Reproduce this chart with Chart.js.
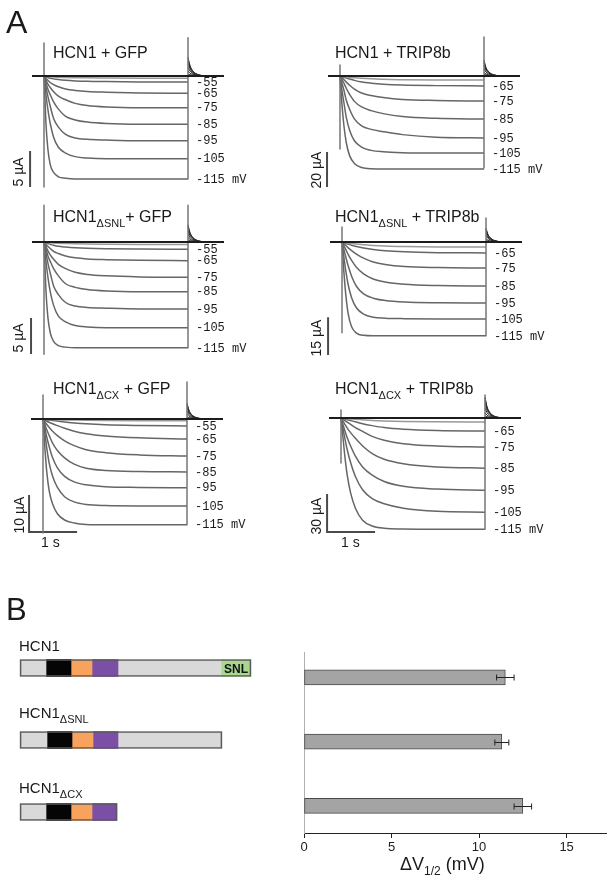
<!DOCTYPE html>
<html><head><meta charset="utf-8">
<script src="https://cdn.jsdelivr.net/npm/chart.js@4.4.1/dist/chart.umd.min.js"></script>
<style>
html,body{margin:0;padding:0;background:#fff}
body{width:613px;height:882px;position:relative;overflow:hidden;font-family:"Liberation Sans",Arial,sans-serif;color:#1a1a1a}
canvas{position:absolute;display:block;z-index:1}
.t{position:absolute;white-space:nowrap;line-height:1;z-index:2}
.sub{font-size:11px;position:relative;top:5px}
.rot{position:absolute;white-space:nowrap;line-height:1;font-size:14px;transform:translate(-50%,-50%) rotate(-90deg);z-index:2}
</style></head><body>
<div class="t" style="left:6px;top:6px;font-size:32px">A</div>
<div class="t" style="left:53px;top:44.8px;font-size:16px">HCN1 + GFP</div>
<div class="t" style="left:335px;top:44.8px;font-size:16px">HCN1 + TRIP8b</div>
<div class="t" style="left:53px;top:208.5px;font-size:16px">HCN1<span class="sub">ΔSNL</span>+ GFP</div>
<div class="t" style="left:335px;top:208.5px;font-size:16px">HCN1<span class="sub">ΔSNL</span> + TRIP8b</div>
<div class="t" style="left:53px;top:380.5px;font-size:16px">HCN1<span class="sub">ΔCX</span> + GFP</div>
<div class="t" style="left:335px;top:380.5px;font-size:16px">HCN1<span class="sub">ΔCX</span> + TRIP8b</div>
<div class="rot" style="left:18px;top:172px">5 µA</div>
<div class="rot" style="left:316px;top:169.5px">20 µA</div>
<div class="rot" style="left:18px;top:338px">5 µA</div>
<div class="rot" style="left:316px;top:337.5px">15 µA</div>
<div class="rot" style="left:19px;top:515px">10 µA</div>
<div class="rot" style="left:316px;top:516px">30 µA</div>
<div class="t" style="left:41px;top:535.2px;font-size:14px">1 s</div>
<div class="t" style="left:341px;top:535.2px;font-size:14px">1 s</div>
<div class="t" style="left:6px;top:593.8px;font-size:31px">B</div>
<div class="t" style="left:19px;top:638.3px;font-size:15px">HCN1</div>
<div class="t" style="left:19px;top:705.3px;font-size:15px">HCN1<span class="sub">ΔSNL</span></div>
<div class="t" style="left:19px;top:780.3px;font-size:15px">HCN1<span class="sub">ΔCX</span></div>
<div class="t" style="left:224px;top:662.9px;font-size:12px;font-weight:bold;color:#111">SNL</div>
<div class="t" style="left:400px;top:854.8px;font-size:18px">ΔV<span class="sub" style="font-size:12px">1/2</span> (mV)</div>
<script>
// ---------- data ----------
const stepTimesS = [0, 0.04, 0.08, 0.13, 0.2, 0.3, 0.45, 0.65, 0.9, 1.3, 2.0, 3.0];
const tailTimesS = [3.0, 3.04, 3.09, 3.16, 3.26, 3.4];
const sweepStartS = -0.25, sweepEndS = 3.75, stepEndS = 3.0;
const gfpStepLabels = ['', '-55', '-65', '-75', '-85', '-95', '-105', '-115 mV'];
const trip8bStepLabels = ['', '-65', '-75', '-85', '-95', '-105', '-115 mV'];

const hcn1GfpSteps = [
 [0,-0.05,-0.08,-0.1,-0.13,-0.17,-0.2,-0.23,-0.26,-0.28,-0.3,-0.3],
 [0,-0.1,-0.2,-0.3,-0.4,-0.5,-0.6,-0.68,-0.74,-0.78,-0.82,-0.83],
 [0,-0.3,-0.6,-0.9,-1.2,-1.5,-1.8,-2.0,-2.15,-2.25,-2.35,-2.4],
 [0,-0.55,-1.1,-1.6,-2.2,-2.8,-3.3,-3.8,-4.1,-4.3,-4.4,-4.4],
 [0,-0.9,-1.8,-2.6,-3.6,-4.6,-5.6,-6.1,-6.4,-6.6,-6.7,-6.7],
 [0,-1.5,-2.8,-4.2,-5.9,-7.1,-8.1,-8.6,-8.8,-8.9,-9.0,-9.0],
 [0,-2.6,-4.6,-6.6,-8.5,-9.9,-10.7,-11.2,-11.4,-11.5,-11.5,-11.5],
 [0,-6.5,-10.1,-12.3,-13.4,-14.0,-14.2,-14.3,-14.3,-14.3,-14.3,-14.3]
];
const hcn1GfpTails = [
 [0.1,0.06,0.03,0.01,0,0],[0.3,0.17,0.09,0.04,0.01,0],[0.7,0.4,0.22,0.1,0.03,0],[1.2,0.7,0.37,0.16,0.05,0],
 [1.7,1.0,0.52,0.23,0.07,0],[2.1,1.2,0.65,0.28,0.08,0],[2.4,1.4,0.74,0.32,0.09,0],[2.6,1.5,0.8,0.35,0.1,0]
];
const hcn1Trip8bSteps = [
 [0,-0.2,-0.35,-0.5,-0.7,-1.0,-1.3,-1.6,-1.9,-2.1,-2.25,-2.3],
 [0,-0.4,-0.8,-1.2,-1.7,-2.5,-3.4,-4.1,-4.7,-5.2,-5.5,-5.7],
 [0,-1,-2,-3.5,-5.3,-7.5,-9.7,-11.2,-12.3,-13.4,-14.0,-14.3],
 [0,-2,-4,-7,-10.5,-14.5,-17.7,-19.8,-21.5,-23.2,-24.2,-24.6],
 [0,-4,-8,-13.7,-19,-24.5,-28.5,-30.5,-31.8,-33.5,-35,-35.4],
 [0,-8,-15,-23.5,-31,-37,-40.6,-42.5,-43.3,-43.8,-44,-44],
 [0,-16,-28,-38,-45.5,-50,-52.3,-53,-53.1,-53.1,-53.1,-53.1]
];
const hcn1Trip8bTails = [
 [1.0,0.55,0.3,0.12,0.04,0],[2.2,1.2,0.65,0.28,0.08,0],[4.2,2.3,1.25,0.53,0.16,0],[6.0,3.3,1.8,0.75,0.22,0],
 [7.5,4.1,2.2,0.95,0.28,0],[8.4,4.6,2.5,1.05,0.31,0],[9.0,4.9,2.7,1.1,0.33,0]
];
const snlGfpSteps = [
 [0,-0.05,-0.08,-0.1,-0.14,-0.18,-0.22,-0.26,-0.29,-0.31,-0.33,-0.33],
 [0,-0.1,-0.2,-0.3,-0.45,-0.6,-0.7,-0.8,-0.88,-0.94,-0.98,-1.0],
 [0,-0.3,-0.6,-0.9,-1.3,-1.6,-1.95,-2.2,-2.35,-2.45,-2.55,-2.6],
 [0,-0.6,-1.2,-1.8,-2.4,-3.1,-3.7,-4.2,-4.5,-4.7,-4.85,-4.9],
 [0,-0.9,-1.9,-2.7,-3.7,-4.7,-5.8,-6.3,-6.6,-6.8,-6.9,-6.9],
 [0,-1.5,-2.9,-4.3,-6.1,-7.3,-8.4,-8.9,-9.1,-9.2,-9.3,-9.3],
 [0,-2.7,-4.8,-6.9,-8.8,-10.3,-11.1,-11.6,-11.8,-11.9,-11.9,-11.9],
 [0,-6.7,-10.4,-12.6,-13.8,-14.4,-14.6,-14.7,-14.7,-14.7,-14.7,-14.7]
];
const snlGfpTails = [
 [0.1,0.06,0.03,0.01,0,0],[0.3,0.17,0.09,0.04,0.01,0],[0.65,0.37,0.2,0.09,0.03,0],[1.1,0.62,0.33,0.15,0.05,0],
 [1.55,0.87,0.47,0.21,0.06,0],[1.95,1.1,0.6,0.26,0.08,0],[2.2,1.25,0.67,0.29,0.09,0],[2.4,1.35,0.73,0.32,0.1,0]
];
const snlTrip8bSteps = [
 [0,-0.15,-0.3,-0.45,-0.6,-0.8,-1.05,-1.35,-1.6,-1.8,-1.95,-2.0],
 [0,-0.3,-0.6,-0.9,-1.3,-1.8,-2.4,-3.0,-3.5,-3.9,-4.2,-4.3],
 [0,-0.7,-1.4,-2.3,-3.4,-4.8,-6.4,-7.9,-8.9,-9.7,-10.1,-10.3],
 [0,-1.5,-3,-5,-7.3,-10,-12.6,-14.6,-15.8,-16.7,-17.2,-17.4],
 [0,-3,-6,-9.5,-13.5,-17.5,-20.5,-22.2,-23.1,-23.7,-24.0,-24.1],
 [0,-6,-11.5,-17,-22,-26,-28.5,-29.7,-30.1,-30.3,-30.4,-30.4],
 [0,-12,-21,-28.5,-33.5,-36,-36.9,-37.1,-37.1,-37.1,-37.1,-37.1]
];
const snlTrip8bTails = [
 [0.6,0.33,0.18,0.08,0.02,0],[1.3,0.72,0.39,0.17,0.05,0],[2.6,1.45,0.78,0.34,0.1,0],[3.7,2.05,1.1,0.48,0.14,0],
 [4.6,2.55,1.38,0.6,0.18,0],[5.1,2.85,1.53,0.66,0.2,0],[5.5,3.05,1.65,0.72,0.21,0]
];
const cxGfpSteps = [
 [0,-0.03,-0.06,-0.09,-0.13,-0.18,-0.24,-0.3,-0.36,-0.42,-0.47,-0.5],
 [0,-0.1,-0.2,-0.3,-0.4,-0.55,-0.8,-1.05,-1.3,-1.55,-1.75,-1.9],
 [0,-0.3,-0.6,-0.9,-1.3,-1.8,-2.5,-3.3,-4.0,-4.6,-5.1,-5.4],
 [0,-0.8,-1.5,-2.3,-3.3,-4.5,-5.9,-7.2,-8.3,-9.1,-9.7,-10.0],
 [0,-1.5,-3,-4.5,-6.5,-8.5,-10.5,-12.2,-13.3,-13.9,-14.2,-14.3],
 [0,-2.5,-5,-7.5,-10.5,-13.2,-15.5,-17,-17.8,-18.3,-18.5,-18.6],
 [0,-4,-8,-12,-15.5,-18.5,-21,-22.4,-23.1,-23.4,-23.5,-23.5],
 [0,-8,-14.5,-19.5,-23,-25.6,-27.3,-28.1,-28.5,-28.6,-28.6,-28.6]
];
const cxGfpTails = [
 [0.2,0.11,0.06,0.03,0.01,0],[0.6,0.34,0.18,0.08,0.02,0],[1.3,0.73,0.39,0.17,0.05,0],[2.1,1.18,0.63,0.27,0.08,0],
 [2.9,1.63,0.87,0.38,0.11,0],[3.5,1.97,1.05,0.46,0.14,0],[4.0,2.25,1.2,0.52,0.16,0],[4.3,2.42,1.29,0.56,0.17,0]
];
const cxTrip8bSteps = [
 [0,-0.15,-0.3,-0.5,-0.7,-1,-1.4,-1.9,-2.3,-2.7,-3.0,-3.2],
 [0,-0.4,-0.8,-1.3,-2,-3,-4.5,-6,-7.5,-8.8,-9.8,-10.3],
 [0,-1,-2,-3.3,-5,-7.5,-10.5,-14.5,-17.5,-20.2,-22,-22.9],
 [0,-2.5,-5,-8,-11.5,-16,-22,-28,-32.5,-36,-38.5,-39.5],
 [0,-5,-10,-15.5,-22,-30,-38.5,-45,-50,-53.8,-56,-56.8],
 [0,-8,-16,-25,-35,-46,-56.5,-63.5,-67.5,-71,-73.5,-74.2],
 [0,-15,-30,-45,-59,-71,-80.5,-85,-86.8,-87.4,-87.6,-87.6]
];
const cxTrip8bTails = [
 [1.8,1.0,0.54,0.23,0.07,0],[4.2,2.35,1.26,0.55,0.16,0],[7.8,4.35,2.34,1.0,0.3,0],[11.2,6.25,3.36,1.45,0.43,0],
 [13.8,7.7,4.14,1.8,0.53,0],[15.5,8.65,4.65,2.0,0.6,0],[16.5,9.2,4.95,2.15,0.64,0]
];
// capacitive transients at step on / off: [top, bottom] in µA
const onTransients = [[4.6,-15.4],[6.3,-41.7],[5.1,-15.6],[5.9,-35.9],[6.5,-30.8],[6.3,-35.4]];
const offTransients = [[5.3,-14.3],[22.3,-52.6],[5.1,-14.7],[9.5,-37.1],[10.0,-28.6],[18.1,-87.6]];
const scaleBarUA = [5, 20, 5, 15, 10, 30];
const scaleBarBottomUA = [-15.4, -63.4, -15.56, -44.7, -30.54, -89.8];
const scaleBarTimeS = 1;

// panel B
const constructNames = ['HCN1', 'HCN1ΔSNL', 'HCN1ΔCX'];
const fullLengthSeg = [[0,231],[0,202],[0,97]];
const nTermSeg = [[0,26],[0,27],[0,26]];
const transmembraneSeg = [[26,51],[27,52],[26,51]];
const linkerSeg = [[51,72],[52,73],[51,72]];
const cnbdSeg = [[72,98],[73,98],[72,97]];
const cTermSeg = [[98,201],[98,202],null];
const snlSeg = [[201,231],null,null];
const deltaV12 = [11.5, 11.3, 12.5];
const deltaV12Err = [0.5, 0.4, 0.5];
const xTickValues = [0, 5, 10, 15];

// ---------- layout ----------
const PX_PER_S = 48;
const FONT = "'Liberation Sans', Arial, sans-serif";
Chart.defaults.font.family = FONT;

function makeCanvas(b) {
  const c = document.createElement('canvas');
  c.width = b.width; c.height = b.height;
  c.style.left = b.left + 'px'; c.style.top = b.top + 'px';
  c.style.width = b.width + 'px'; c.style.height = b.height + 'px';
  document.body.appendChild(c);
  return c;
}

const voltLabelPlugin = {
  id: 'voltLabels',
  afterDatasetsDraw(chart, args, opts) {
    const {ctx, scales: {x, y}} = chart;
    ctx.save();
    ctx.font = "12px 'Liberation Mono', 'Courier New', monospace";
    ctx.fillStyle = '#1a1a1a';
    ctx.textBaseline = 'middle';
    opts.labels.forEach((lab, i) => {
      if (!lab) return;
      const tr = opts.steps[i];
      ctx.fillText(lab, x.getPixelForValue(stepEndS) + 8, y.getPixelForValue(tr[tr.length - 1]) + 0.5);
    });
    ctx.restore();
  }
};

const panels = [
  {box:{left:20, top:32, width:240, height:162}, stepX:44, baseY:76, ppu:7.2, steps:hcn1GfpSteps, tails:hcn1GfpTails, labels:gfpStepLabels, barT:-0.29, timeBar:false},
  {box:{left:318, top:32, width:272, height:162}, stepX:340, baseY:76, ppu:1.75, steps:hcn1Trip8bSteps, tails:hcn1Trip8bTails, labels:trip8bStepLabels, barT:-0.27, timeBar:false},
  {box:{left:20, top:198, width:240, height:162}, stepX:44, baseY:242, ppu:7.2, steps:snlGfpSteps, tails:snlGfpTails, labels:gfpStepLabels, barT:-0.27, timeBar:false},
  {box:{left:318, top:198, width:272, height:162}, stepX:342, baseY:242, ppu:2.53, steps:snlTrip8bSteps, tails:snlTrip8bTails, labels:trip8bStepLabels, barT:-0.29, timeBar:false},
  {box:{left:20, top:372, width:240, height:168}, stepX:43, baseY:419, ppu:3.7, steps:cxGfpSteps, tails:cxGfpTails, labels:gfpStepLabels, barT:-0.29, timeBar:true},
  {box:{left:318, top:372, width:272, height:168}, stepX:341, baseY:418, ppu:1.27, steps:cxTrip8bSteps, tails:cxTrip8bTails, labels:trip8bStepLabels, barT:-0.29, timeBar:true}
];

panels.forEach((p, k) => {
  const c = makeCanvas(p.box);
  const xmin = (p.box.left - p.stepX) / PX_PER_S;
  const xmax = (p.box.left + p.box.width - p.stepX) / PX_PER_S;
  const ymax = (p.baseY - p.box.top) / p.ppu;
  const ymin = -(p.box.top + p.box.height - p.baseY) / p.ppu;
  const ds = [];
  ds.push({data:[{x:sweepStartS, y:0}, {x:sweepEndS, y:0}], borderColor:'#1c1c1c', borderWidth:2.2});
  ds.push({data:[{x:0, y:onTransients[k][0]}, {x:0, y:onTransients[k][1]}], borderColor:'#777', borderWidth:1.5});
  ds.push({data:[{x:stepEndS, y:offTransients[k][0]}, {x:stepEndS, y:offTransients[k][1]}], borderColor:'#777', borderWidth:1.5});
  p.tails.forEach(tr => ds.push({data: tailTimesS.map((t, j) => ({x:t, y:tr[j]})), borderColor:'#2a2a2a', borderWidth:1, cubicInterpolationMode:'monotone'}));
  p.steps.forEach((tr, i) => ds.push({data: stepTimesS.map((t, j) => ({x:t, y:tr[j]})), borderColor: i === 0 ? '#999' : '#666', borderWidth:1.5, cubicInterpolationMode:'monotone'}));
  const sb = [{x:p.barT, y:scaleBarBottomUA[k] + scaleBarUA[k]}, {x:p.barT, y:scaleBarBottomUA[k]}];
  if (p.timeBar) sb.push({x:p.barT + scaleBarTimeS, y:scaleBarBottomUA[k]});
  ds.push({data:sb, borderColor:'#4a4a4a', borderWidth:2, borderJoinStyle:'miter'});
  new Chart(c, {
    type:'line',
    data:{datasets:ds},
    options:{
      responsive:false, animation:false, devicePixelRatio:1, events:[],
      layout:{padding:0},
      plugins:{legend:{display:false}, tooltip:{enabled:false}, voltLabels:{labels:p.labels, steps:p.steps}},
      elements:{point:{radius:0}, line:{borderCapStyle:'butt', borderJoinStyle:'round', fill:false}},
      scales:{x:{type:'linear', display:false, min:xmin, max:xmax}, y:{type:'linear', display:false, min:ymin, max:ymax}}
    },
    plugins:[voltLabelPlugin]
  });
});

// ---------- panel B schematic ----------
const schem = makeCanvas({left:10, top:632, width:260, height:216});
new Chart(schem, {
  type:'bar',
  data:{labels:constructNames, datasets:[
    {data:fullLengthSeg, backgroundColor:'rgba(0,0,0,0)', borderColor:'#5a5a5a', borderWidth:1, borderSkipped:false, order:0},
    {data:nTermSeg, backgroundColor:'#d9d9d9', order:1},
    {data:transmembraneSeg, backgroundColor:'#050505', order:1},
    {data:linkerSeg, backgroundColor:'#f8a35d', order:1},
    {data:cnbdSeg, backgroundColor:'#7b4fa5', order:1},
    {data:cTermSeg, backgroundColor:'#d9d9d9', order:1},
    {data:snlSeg, backgroundColor:'#a9d790', order:1}
  ]},
  options:{
    indexAxis:'y', responsive:false, animation:false, devicePixelRatio:1, events:[],
    layout:{padding:0},
    datasets:{bar:{grouped:false, barThickness:17, borderWidth:0}},
    plugins:{legend:{display:false}, tooltip:{enabled:false}},
    scales:{x:{type:'linear', display:false, min:-10, max:250}, y:{type:'category', display:false}}
  }
});

// ---------- panel B bar chart ----------
const errorBarPlugin = {
  id:'errBars',
  afterDatasetsDraw(chart) {
    const {ctx} = chart;
    const xs = chart.scales.x;
    const meta = chart.getDatasetMeta(0);
    ctx.save();
    ctx.strokeStyle = '#222'; ctx.lineWidth = 1;
    meta.data.forEach((bar, i) => {
      const y = Math.round(bar.y) + 0.5;
      const x1 = xs.getPixelForValue(deltaV12[i] - deltaV12Err[i]);
      const x2 = xs.getPixelForValue(deltaV12[i] + deltaV12Err[i]);
      ctx.beginPath();
      ctx.moveTo(x1, y); ctx.lineTo(x2, y);
      ctx.moveTo(x1, y - 3); ctx.lineTo(x1, y + 3);
      ctx.moveTo(x2, y - 3); ctx.lineTo(x2, y + 3);
      ctx.stroke();
    });
    ctx.restore();
  }
};
const dv = makeCanvas({left:280, top:640, width:333, height:242});
new Chart(dv, {
  type:'bar',
  data:{datasets:[{data:deltaV12.map((v, i) => ({x:v, y:i + 1})), backgroundColor:'#a4a4a4', borderColor:'#4a4a4a', borderWidth:1, borderSkipped:false, barThickness:15}]},
  options:{
    indexAxis:'y', responsive:false, animation:false, devicePixelRatio:1, events:[],
    layout:{padding:{left:24, right:7, top:12, bottom:19}},
    plugins:{legend:{display:false}, tooltip:{enabled:false}},
    scales:{
      x:{type:'linear', min:0, max:17.25,
         afterBuildTicks:s => { s.ticks = xTickValues.map(v => ({value:v})); },
         afterFit:s => { s.height = 30; },
         grid:{display:true, drawOnChartArea:false, drawTicks:true, tickLength:5, color:'#222', lineWidth:1},
         border:{display:true, color:'#222', width:1},
         ticks:{font:{size:13, family:FONT}, color:'#222', padding:2, maxRotation:0}},
      y:{type:'linear', reverse:true, min:0.807, max:3.22,
         afterFit:s => { s.width = 0; },
         grid:{display:false, drawTicks:false}, ticks:{display:false},
         border:{display:true, color:'#b0b0b0', width:1}}
    }
  },
  plugins:[errorBarPlugin]
});
</script>
</body></html>
